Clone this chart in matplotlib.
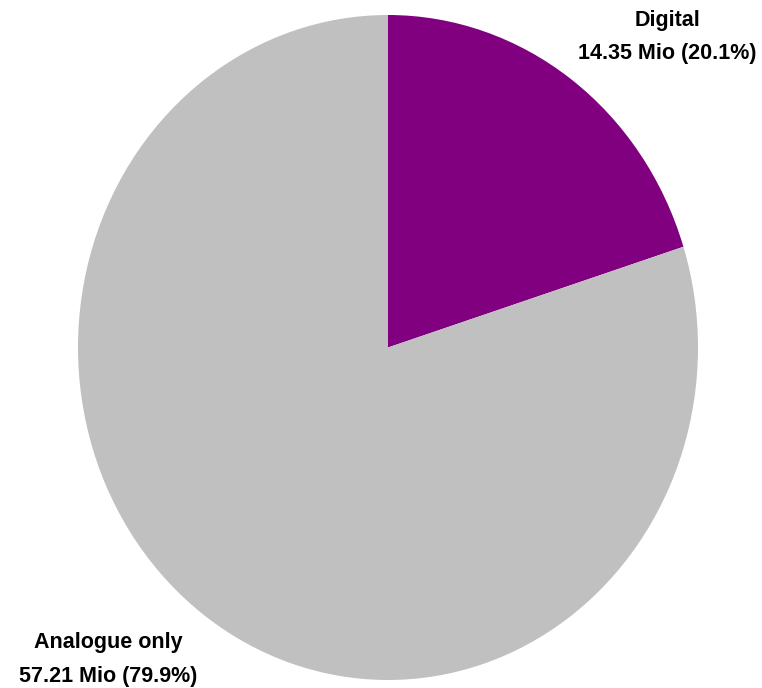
import matplotlib
matplotlib.use("Agg")
import matplotlib.pyplot as plt

categories = ["Digital", "Analogue only"]
values_mio = [14.35, 57.21]
shares_pct = [20.1, 79.9]
colors = ["#800080", "#C0C0C0"]

W, H = 762, 688
fig = plt.figure(figsize=(W / 100, H / 100), dpi=100)
fig.patch.set_facecolor("white")

# Pie axes (slightly taller than wide, so the pie is drawn as an ellipse)
left, right, top, bottom = 78, 698, 15, 680
ax = fig.add_axes([left / W, 1 - bottom / H, (right - left) / W, (bottom - top) / H])
ax.pie(shares_pct, colors=colors, startangle=90, counterclock=False,
       radius=1.0, wedgeprops=dict(linewidth=0))
ax.set_aspect("auto")
ax.set_xlim(-1, 1)
ax.set_ylim(-1, 1)
ax.axis("off")

font = dict(family=["Liberation Sans", "DejaVu Sans"], fontweight="bold",
            fontsize=15.5, color="#000000", ha="center", va="center")

label_pos = [(667, 37), (108, 659.5)]
for name, val, pct, (px, py) in zip(categories, values_mio, shares_pct, label_pos):
    fig.text(px / W, 1 - py / H, f"{name}\n{val:.2f} Mio ({pct:.1f}%)",
             linespacing=1.76, **font)

fig.savefig("out.png", dpi=100)
